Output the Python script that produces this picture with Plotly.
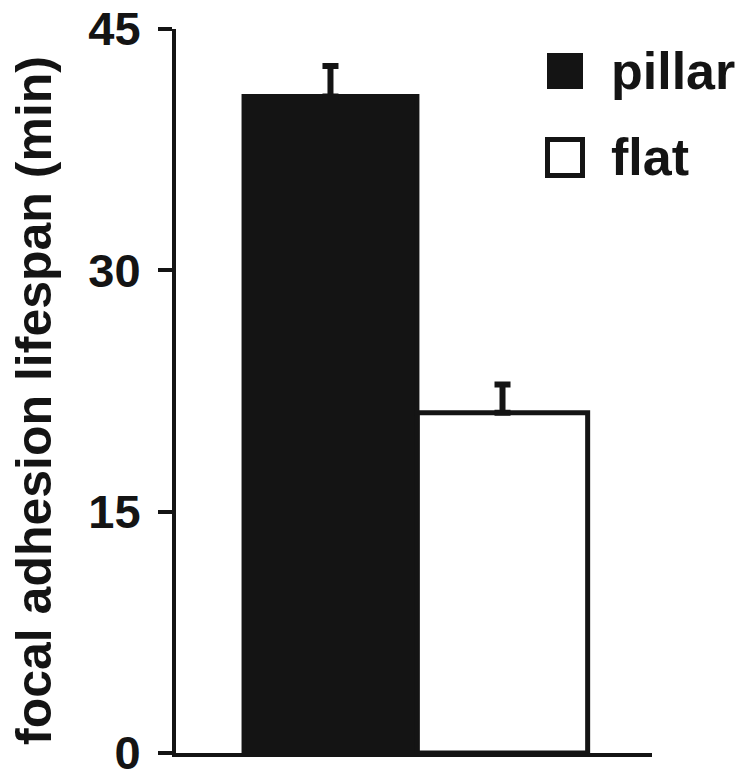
import plotly.graph_objects as go

categories = ["pillar", "flat"]
values = [40.8, 21.15]
errors_up = [1.9, 1.75]
fills = ["#141414", "#ffffff"]
y_ticks = [0, 15, 30, 45]
y_title = "focal adhesion lifespan (min)"

W, H = 743, 773
L, R, T, B = 176, 91, 29, 20
pw, ph = W - L - R, H - T - B

def px(x):
    return (x - L) / pw

def py(y):
    return (H - B - y) / ph

ink = "#141414"
font_family = "Liberation Sans, Arial, sans-serif"

fig = go.Figure()
fig.add_trace(go.Bar(
    x=[0, 1],
    y=values,
    width=[1.005, 0.99],
    marker=dict(color=fills, line=dict(color=ink, width=5)),
    error_y=dict(type="data", symmetric=False, array=errors_up,
                 arrayminus=[0, 0], color=ink, thickness=6, width=8),
    showlegend=False,
    hoverinfo="skip",
))

fig.update_layout(
    template="none",
    width=W, height=H,
    margin=dict(l=L, r=R, t=T, b=B, pad=0, autoexpand=False),
    plot_bgcolor="white", paper_bgcolor="white",
    font=dict(family=font_family, size=48, color=ink, weight="bold"),
    bargap=0,
    showlegend=False,
    xaxis=dict(range=[-0.898, 1.869], showticklabels=False, ticks="",
               showline=True, linecolor=ink, linewidth=4, showgrid=False,
               zeroline=False, fixedrange=True, automargin=False),
    yaxis=dict(range=[0, 45], tickvals=y_ticks, ticktext=[str(v) for v in y_ticks],
               ticks="outside", ticklen=14, tickwidth=4, tickcolor=ink,
               showline=True, linecolor=ink, linewidth=4, showgrid=False,
               zeroline=False, ticklabelstandoff=8, automargin=False,
               ticklabeloverflow="allow", fixedrange=True,
               tickfont=dict(family=font_family, size=47, color=ink, weight="bold")),
)

# y-axis title
fig.add_annotation(text=y_title, textangle=-90, xref="paper", yref="paper",
                   x=px(34), y=py(401), xanchor="center", yanchor="middle",
                   showarrow=False,
                   font=dict(family=font_family, size=50, color=ink, weight="bold"))

# legend (drawn manually to match large swatches)
fig.add_shape(type="rect", xref="paper", yref="paper",
              x0=px(547), x1=px(583), y0=py(89), y1=py(53),
              fillcolor=ink, line=dict(width=0))
fig.add_shape(type="rect", xref="paper", yref="paper",
              x0=px(547.5), x1=px(582.5), y0=py(175.5), y1=py(139.5),
              fillcolor="white", line=dict(color=ink, width=5))
fig.add_annotation(text=categories[0], xref="paper", yref="paper",
                   x=px(609), y=py(71), xanchor="left", yanchor="middle",
                   showarrow=False,
                   font=dict(family=font_family, size=52, color=ink, weight="bold"))
fig.add_annotation(text=categories[1], xref="paper", yref="paper",
                   x=px(609), y=py(157), xanchor="left", yanchor="middle",
                   showarrow=False,
                   font=dict(family=font_family, size=52, color=ink, weight="bold"))

fig.write_html("out.html", post_script="document.body.style.margin='0';",
               config={"displayModeBar": False, "staticPlot": True})
